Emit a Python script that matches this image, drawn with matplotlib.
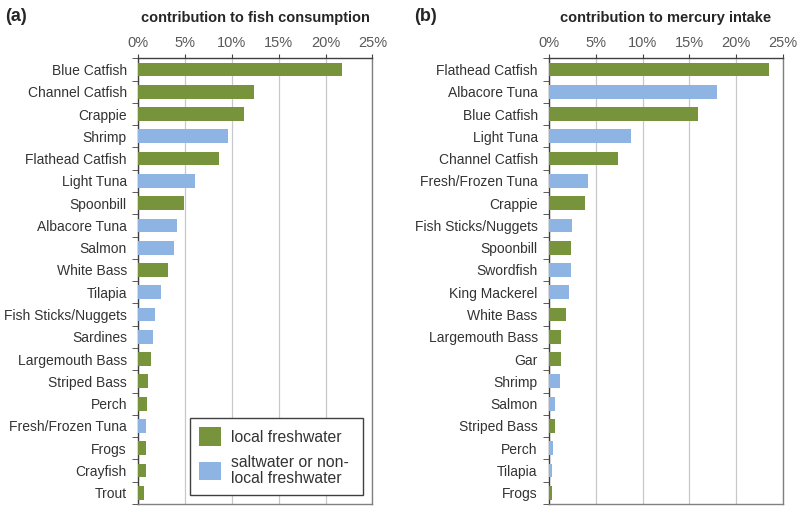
import matplotlib.pyplot as plt
from matplotlib.patches import Patch
import numpy as np

plt.rcParams['font.family'] = ['Liberation Sans', 'DejaVu Sans']

# datos (a) consumo de pescado
peces_a = ["Blue Catfish", "Channel Catfish", "Crappie", "Shrimp", "Flathead Catfish",
           "Light Tuna", "Spoonbill", "Albacore Tuna", "Salmon", "White Bass", "Tilapia",
           "Fish Sticks/Nuggets", "Sardines", "Largemouth Bass", "Striped Bass", "Perch",
           "Fresh/Frozen Tuna", "Frogs", "Crayfish", "Trout"]
valores_a = [21.8, 12.4, 11.3, 9.6, 8.65, 6.1, 4.9, 4.2, 3.85, 3.25, 2.5,
             1.85, 1.55, 1.4, 1.05, 0.95, 0.9, 0.8, 0.8, 0.65]
local_a = [1, 1, 1, 0, 1, 0, 1, 0, 0, 1, 0, 0, 0, 1, 1, 1, 0, 1, 1, 1]

# datos (b) ingesta de mercurio
peces_b = ["Flathead Catfish", "Albacore Tuna", "Blue Catfish", "Light Tuna", "Channel Catfish",
           "Fresh/Frozen Tuna", "Crappie", "Fish Sticks/Nuggets", "Spoonbill", "Swordfish",
           "King Mackerel", "White Bass", "Largemouth Bass", "Gar", "Shrimp", "Salmon",
           "Striped Bass", "Perch", "Tilapia", "Frogs"]
valores_b = [23.5, 17.9, 15.9, 8.8, 7.35, 4.15, 3.9, 2.45, 2.4, 2.35,
             2.15, 1.85, 1.3, 1.25, 1.2, 0.7, 0.7, 0.4, 0.3, 0.35]
local_b = [1, 0, 1, 0, 1, 0, 1, 0, 1, 0, 0, 1, 1, 1, 0, 0, 1, 0, 0, 1]

ticks_x = [0, 5, 10, 15, 20, 25]

verde = "#77933C"
azul = "#8DB4E2"
gris_texto = "#333333"


def panel(ax, nombres, valores, local, titulo):
    n = len(nombres)
    y = np.arange(n)
    colores = [verde if l else azul for l in local]
    ax.barh(y, valores, height=0.62, color=colores, zorder=3)
    ax.set_xlim(0, 25)
    ax.set_ylim(n - 0.5, -0.5)
    ax.set_xticks(ticks_x)
    ax.set_xticklabels([f"{t}%" for t in ticks_x], color="#595959", fontsize=10.5)
    ax.xaxis.tick_top()
    ax.tick_params(axis="x", length=3, pad=3, color="#404040")
    ax.grid(axis="x", color="#c8c8c8", linewidth=0.9, zorder=0)
    # etiquetas en el centro, marcas en los bordes
    ax.set_yticks(y)
    ax.set_yticklabels(nombres, fontsize=10, color=gris_texto)
    ax.tick_params(axis="y", length=0, pad=8)
    ax.set_yticks(np.arange(n + 1) - 0.5, minor=True)
    ax.tick_params(axis="y", which="minor", length=4, color="#404040")
    for lado in ["top", "left"]:
        ax.spines[lado].set_color("#404040")
        ax.spines[lado].set_linewidth(1.0)
    for lado in ["right", "bottom"]:
        ax.spines[lado].set_color("#808080")
        ax.spines[lado].set_linewidth(1.0)
    ax.set_title(titulo, fontsize=10.5, fontweight="bold", color="#262626", pad=26)


fig = plt.figure(figsize=(8, 5.07), dpi=100)
ax1 = fig.add_axes([0.1725, 0.006, 0.293, 0.879])
ax2 = fig.add_axes([0.686, 0.006, 0.293, 0.879])

panel(ax1, peces_a, valores_a, local_a, "contribution to fish consumption")
panel(ax2, peces_b, valores_b, local_b, "contribution to mercury intake")

fig.text(0.006, 0.968, "(a)", fontsize=13, fontweight="bold", color="#262626", va="center")
fig.text(0.518, 0.968, "(b)", fontsize=13, fontweight="bold", color="#262626", va="center")

handles = [Patch(facecolor=verde, label="local freshwater"),
           Patch(facecolor=azul, label="saltwater or non-\nlocal freshwater")]
leg = ax1.legend(handles=handles, loc="lower left", bbox_to_anchor=(0.222, 0.02, 0.738, 0.193),
                 mode="expand", fancybox=False, edgecolor="#404040", fontsize=11.3,
                 handlelength=1.4, handleheight=1.4, handletextpad=0.6, labelspacing=0.6,
                 borderpad=0.6, borderaxespad=0, framealpha=1)
leg.get_frame().set_linewidth(1.0)
for t in leg.get_texts():
    t.set_color(gris_texto)
    t.set_linespacing(1.05)

fig.savefig("out.png", dpi=100)
